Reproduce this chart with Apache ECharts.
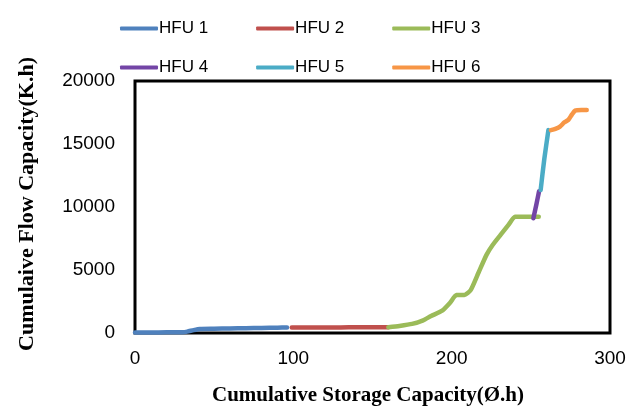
<!DOCTYPE html>
<html>
<head>
<meta charset="utf-8">
<script src="https://cdn.jsdelivr.net/npm/echarts@6/dist/echarts.min.js"></script>
<style>
html,body{margin:0;padding:0;background:#fff;}
#chart{width:640px;height:406px;}
</style>
</head>
<body>
<div id="chart"></div>
<script>
// Data
var seriesNames = ['HFU 1', 'HFU 2', 'HFU 3', 'HFU 4', 'HFU 5', 'HFU 6'];

var hfu1X = [0, 10, 20, 30, 33, 37, 41, 50, 60, 70, 80, 90, 96];
var hfu1Y = [40, 40, 50, 60, 110, 230, 320, 340, 360, 380, 400, 420, 440];

var hfu2X = [99, 110, 120, 130, 140, 150, 160];
var hfu2Y = [440, 440, 445, 445, 450, 450, 455];

var hfu3X = [160, 167, 175, 182, 187, 194, 199, 203, 208, 212, 217, 222, 226, 231, 236, 240, 246, 252, 255];
var hfu3Y = [455, 560, 720, 1000, 1350, 1770, 2400, 3020, 3020, 3400, 4800, 6200, 7000, 7800, 8600, 9230, 9230, 9230, 9230];

var hfu4X = [251.6, 253.5, 255.2];
var hfu4Y = [9100, 10200, 11250];

var hfu5X = [256.2, 258.5, 261.1];
var hfu5Y = [11350, 13800, 16100];

var hfu6X = [262.7, 265.5, 268.4, 271, 273.7, 276, 278, 282, 285.3];
var hfu6Y = [16100, 16200, 16380, 16700, 16910, 17350, 17650, 17700, 17700];

var xTicks = [0, 100, 200, 300];
var yTicks = [0, 5000, 10000, 15000, 20000];

var colors = ['#4F81BD', '#C0504D', '#9BBB59', '#7345A6', '#4BACC6', '#F79646'];

function zip(xs, ys) {
  return xs.map(function (x, i) { return [x, ys[i]]; });
}
var allX = [hfu1X, hfu2X, hfu3X, hfu4X, hfu5X, hfu6X];
var allY = [hfu1Y, hfu2Y, hfu3Y, hfu4Y, hfu5Y, hfu6Y];

var chart = echarts.init(document.getElementById('chart'), null, {renderer: 'canvas'});

var series = seriesNames.map(function (name, i) {
  return {
    name: name,
    type: 'line',
    data: zip(allX[i], allY[i]),
    showSymbol: false,
    symbol: 'none',
    smooth: 0.2,
    lineStyle: {width: 4.5, color: colors[i], cap: 'round', join: 'round'},
    itemStyle: {color: colors[i]},
    z: 3
  };
});

var legendCommon = {
  icon: 'roundRect',
  itemWidth: 38,
  itemHeight: 4,
  itemGap: 48,
  textStyle: {fontFamily: 'Liberation Sans', fontSize: 17, color: '#000', padding: [0, 0, 0, -4]},
  left: 115
};

var option = {
  backgroundColor: '#fff',
  animation: false,
  color: colors,
  legend: [
    Object.assign({}, legendCommon, {top: 15, data: ['HFU 1', 'HFU 2', 'HFU 3']}),
    Object.assign({}, legendCommon, {top: 54, data: ['HFU 4', 'HFU 5', 'HFU 6']})
  ],
  grid: {
    left: 135, right: 30, top: 81, bottom: 73,
    outerBoundsMode: 'none',
    containLabel: false,
    show: true, borderColor: '#000', borderWidth: 3, backgroundColor: '#fff'
  },
  xAxis: {
    type: 'value',
    min: xTicks[0], max: xTicks[xTicks.length - 1], interval: 100,
    name: 'Cumulative Storage Capacity(Ø.h)',
    nameLocation: 'middle',
    nameGap: 52,
    nameTextStyle: {fontFamily: 'Liberation Serif', fontWeight: 'bold', fontSize: 21, color: '#000', padding: [0, 9, 0, 0]},
    axisLine: {show: false},
    axisTick: {show: false},
    splitLine: {show: false},
    axisLabel: {fontFamily: 'Liberation Sans', fontSize: 19, color: '#000', margin: 16,
      formatter: function (v) { return String(v); }}
  },
  yAxis: {
    type: 'value',
    min: yTicks[0], max: yTicks[yTicks.length - 1], interval: 5000,
    name: 'Cumulaive Flow Capacity(K.h)',
    nameLocation: 'middle',
    nameRotate: 90,
    nameGap: 97,
    nameTextStyle: {fontFamily: 'Liberation Serif', fontWeight: 'bold', fontSize: 22, color: '#000', padding: [0, 0, 0, 6]},
    axisLine: {show: false},
    axisTick: {show: false},
    splitLine: {show: false},
    axisLabel: {fontFamily: 'Liberation Sans', fontSize: 19, color: '#000', margin: 20,
      formatter: function (v) { return String(v); }}
  },
  series: series
};

chart.setOption(option);
</script>
</body>
</html>
